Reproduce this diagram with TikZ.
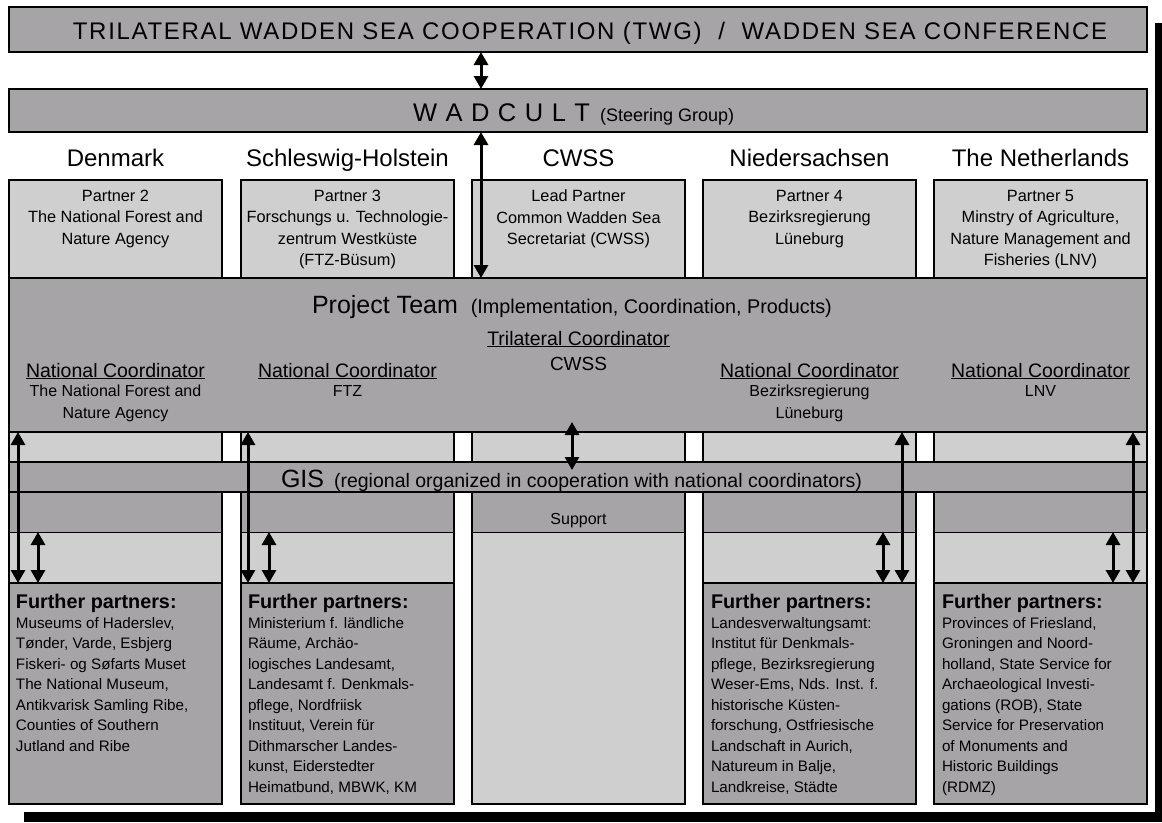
\documentclass[tikz,border=0pt]{standalone}
\usepackage{fontspec}
\setmainfont{Liberation Sans}
\usetikzlibrary{arrows.meta}
\definecolor{dk}{RGB}{166,164,166}
\definecolor{lt}{RGB}{207,207,207}
\newcommand\FSz[2]{\fontsize{#1pt}{#2pt}\selectfont}
\tikzset{
 boxbase/.style={anchor=north west, inner sep=0pt, outer sep=0pt, line width=2pt},
 darkbox/.style={boxbase, draw=black, fill=dk},
 lightbox/.style={boxbase, draw=black, fill=lt},
 darksec/.style={boxbase, fill=dk},
 edge/.style={line width=2pt},
 thinline/.style={line width=1pt},
 arr/.style={line width=3pt, {Triangle[width=14pt,length=13pt]}-{Triangle[width=14pt,length=13pt]}},
 txt/.style={inner sep=0pt, outer sep=0pt},
 ptxt/.style={txt, anchor=north, align=center, font=\FSz{16.3}{21.5}},
 nctxt/.style={txt, anchor=base, font=\FSz{19.5}{22}},
 subtxt/.style={txt, anchor=north, align=center, font=\FSz{16}{22}},
 cntxt/.style={txt, anchor=base, font=\FSz{24}{27}},
 fphead/.style={txt, anchor=base west, font=\bfseries\FSz{19.8}{22}},
 fpbody/.style={txt, anchor=north west, align=left, font=\FSz{15.2}{20.5}},
 shadowbar/.style={fill=black, draw=none}
}
\begin{document}
\begin{tikzpicture}[x=1pt,y=-1pt]
\useasboundingbox (0,0) rectangle (1162,822);
% drop shadow
\fill[shadowbar] (1155,23) rectangle (1162,822);
\fill[shadowbar] (24,812) rectangle (1162,822);
% columns
\foreach \n/\x in {1/9,2/241,4/703,5/934}{
  \node[lightbox, minimum width=213pt, minimum height=403pt] (col\n) at (\x,180) {};
}
\node[lightbox, minimum width=213pt, minimum height=624pt] (col3) at (472,180) {};
\foreach \n/\x in {1/9,2/241,3/472,4/703,5/934}{
  \node[darksec, minimum width=213pt, minimum height=40pt] (sec\n) at (\x,492) {};
  \draw[thinline] (sec\n.south west) -- (sec\n.south east);
  \draw[edge] (col\n.north west) rectangle (col\n.south east);
}
% bands
\node[darkbox, minimum width=1138pt, minimum height=45pt] (banner) at (9,7) {};
\node[darkbox, minimum width=1138pt, minimum height=43pt] (wadcult) at (9,89) {};
\node[darkbox, minimum width=1138pt, minimum height=154pt] (team) at (9,278) {};
\node[darkbox, minimum width=1138pt, minimum height=30pt] (gis) at (9,462) {};
% further partner boxes
\foreach \n/\x in {1/9,2/241,4/703,5/934}{
  \node[darkbox, minimum width=213pt, minimum height=221pt] (fp\n) at (\x,583) {};
}
% texts
\node[txt, anchor=base] (bannertxt) at (590,39)
  {\FSz{24}{28}\addfontfeatures{LetterSpace=7}TRILATERAL WADDEN SEA COOPERATION (TWG)~~/~~WADDEN SEA CONFERENCE};
\node[txt, anchor=base west] (wadtxt) at (413,121)
  {\FSz{25.5}{28}W\,\,A\,\,D\,\,C\,\,U\,\,L\,\,T\hspace{10pt}\FSz{18}{20}(Steering Group)};
\node[cntxt] (cn1) at (115.5,166) {Denmark};
\node[cntxt] (cn2) at (347.5,166) {Schleswig-Holstein};
\node[cntxt] (cn3) at (578.5,166) {CWSS};
\node[cntxt] (cn4) at (809.5,166) {Niedersachsen};
\node[cntxt] (cn5) at (1040.5,166) {The Netherlands};
\node[ptxt] (pt1) at (115.5,190) {Partner 2\\The National Forest and\\Nature Agency};
\node[ptxt] (pt2) at (347.5,190) {Partner 3\\Forschungs u. Technologie-\\zentrum Westküste\\(FTZ-Büsum)};
\node[ptxt] (pt3) at (578.5,190) {Lead Partner\\Common Wadden Sea\\Secretariat (CWSS)};
\node[ptxt] (pt4) at (809.5,190) {Partner 4\\Bezirksregierung\\Lüneburg};
\node[ptxt] (pt5) at (1040.5,190) {Partner 5\\Minstry of Agriculture,\\Nature Management and\\Fisheries (LNV)};
\node[txt, anchor=base west] (teamtxt) at (312,313)
  {\FSz{25}{28}Project Team\hspace{13pt}\FSz{19.8}{22}(Implementation, Coordination, Products)};
\node[nctxt] (tri) at (578.5,345) {\underline{Trilateral Coordinator}};
\node[txt, anchor=base, font=\FSz{19}{22}] (tric) at (578.5,370) {CWSS};
\node[nctxt] (nc1) at (115.5,377) {\underline{National Coordinator}};
\node[nctxt] (nc2) at (347.5,377) {\underline{National Coordinator}};
\node[nctxt] (nc4) at (809.5,377) {\underline{National Coordinator}};
\node[nctxt] (nc5) at (1040.5,377) {\underline{National Coordinator}};
\node[subtxt] (ns1) at (115.5,385) {The National Forest and\\Nature Agency};
\node[subtxt] (ns2) at (347.5,385) {FTZ};
\node[subtxt] (ns4) at (809.5,385) {Bezirksregierung\\Lüneburg};
\node[subtxt] (ns5) at (1040.5,385) {LNV};
\node[txt, anchor=base west] (gistxt) at (281,487)
  {\FSz{25}{28}GIS\hspace{10pt}\FSz{19.5}{22}(regional organized in cooperation with national coordinators)};
\node[txt, anchor=base, font=\FSz{16}{18}] (sup) at (578.5,524) {Support};
% further partners
\node[fphead] (fh1) at (16,608) {Further partners:};
\node[fphead] (fh2) at (248,608) {Further partners:};
\node[fphead] (fh4) at (711,608) {Further partners:};
\node[fphead] (fh5) at (942,608) {Further partners:};
\node[fpbody] (fb1) at (16,617) {Museums of Haderslev,\\Tønder, Varde, Esbjerg\\Fiskeri- og Søfarts Muset\\The National Museum,\\Antikvarisk Samling Ribe,\\Counties of Southern\\Jutland and Ribe};
\node[fpbody] (fb2) at (248,617) {Ministerium f. ländliche\\Räume, Archäo-\\logisches Landesamt,\\Landesamt f. Denkmals-\\pflege, Nordfriisk\\Instituut, Verein für\\Dithmarscher Landes-\\kunst, Eiderstedter\\Heimatbund, MBWK, KM};
\node[fpbody] (fb4) at (711,617) {Landesverwaltungsamt:\\Institut für Denkmals-\\pflege, Bezirksregierung\\Weser-Ems, Nds. Inst. f.\\historische Küsten-\\forschung, Ostfriesische\\Landschaft in Aurich,\\Natureum in Balje,\\Landkreise, Städte};
\node[fpbody] (fb5) at (942,617) {Provinces of Friesland,\\Groningen and Noord-\\holland, State Service for\\Archaeological Investi-\\gations (ROB), State\\Service for Preservation\\of Monuments and\\Historic Buildings\\(RDMZ)};
% arrow guides
\coordinate (xw) at (481,0);
\coordinate (c3t) at (572,422);
\coordinate (c3b) at (572,470);
\coordinate (xl1) at (18,0);   \coordinate (xs1) at (38,0);
\coordinate (xl2) at (248,0);  \coordinate (xs2) at (269,0);
\coordinate (xl4) at (902,0);  \coordinate (xs4) at (883,0);
\coordinate (xl5) at (1133,0); \coordinate (xs5) at (1113,0);
% connectors
\draw[arr] (banner.south -| xw) -- (wadcult.north -| xw);
\draw[arr] (wadcult.south -| xw) -- (team.north -| xw);
\draw[arr] (c3t) -- (c3b);
\foreach \n in {1,2,4,5}{
  \draw[arr] (team.south -| xl\n) -- (fp\n.north -| xl\n);
  \draw[arr] (sec\n.south -| xs\n) -- (fp\n.north -| xs\n);
}
\end{tikzpicture}
\end{document}
